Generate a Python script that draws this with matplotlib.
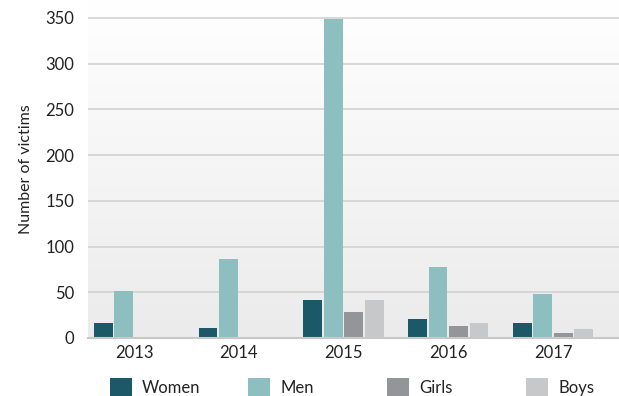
import numpy as np
import matplotlib
matplotlib.use("Agg")
import matplotlib.pyplot as plt
from matplotlib.patches import Rectangle

plt.rcParams['font.family'] = ['Lato', 'DejaVu Sans']

years = ["2013", "2014", "2015", "2016", "2017"]
series_names = ["Women", "Men", "Girls", "Boys"]
women = [16, 11, 42, 21, 16]
men = [51, 86, 349, 78, 48]
girls = [1, 1, 28, 13, 5]
boys = [1, 1, 42, 16, 10]
yticks = [0, 50, 100, 150, 200, 250, 300, 350]

colors = ["#1b5968", "#8dbfc0", "#939598", "#c7c8ca"]
values = [women, men, girls, boys]

W, H = 619, 396
fig = plt.figure(figsize=(W / 100, H / 100), dpi=100)
ax = fig.add_axes([88 / W, 1 - 338 / H, 1 - 88 / W, 338 / H])

# vertical gradient background: white at top, light grey at the bottom
grad = np.linspace(0.0, 1.0, 256).reshape(-1, 1)
ax.imshow(grad, extent=[0, 1, 0, 1], transform=ax.transAxes, aspect='auto', origin='lower',
          cmap=matplotlib.colors.LinearSegmentedColormap.from_list("bg", ["#ebebeb", "#ffffff"]),
          vmin=0, vmax=1, zorder=0)

x = np.arange(len(years))
step = 0.196
width = 0.178
for i, (vals, c) in enumerate(zip(values, colors)):
    ax.bar(x + (i - 1.5) * step, vals, width=width, color=c, zorder=3, label=series_names[i])

ax.set_xlim(-0.44, 4.63)
ax.set_ylim(0, 369.5)
ax.set_yticks(yticks)
ax.set_yticklabels([str(t) for t in yticks])
ax.set_xticks(x)
ax.set_xticklabels(years)
ax.yaxis.grid(True, color="#d2d2d2", linewidth=1.2, zorder=1)
ax.set_axisbelow(True)
for s in ["left", "right", "top"]:
    ax.spines[s].set_visible(False)
ax.spines["bottom"].set_color("#c8c8c8")
ax.spines["bottom"].set_linewidth(1.5)
ax.spines["bottom"].set_zorder(4)
ax.tick_params(axis='both', length=0, labelsize=12, colors="#222222")
ax.tick_params(axis='y', pad=10)
ax.tick_params(axis='x', pad=5)
ax.set_ylabel("Number of victims", fontsize=11.5, color="#222222", labelpad=9)

# legend row along the bottom edge
lx = [110, 248, 387, 526]
for px, name, c in zip(lx, series_names, colors):
    fig.patches.append(Rectangle((px / W, 0), 22 / W, 18 / H, transform=fig.transFigure,
                                 facecolor=c, edgecolor='none'))
    fig.text((px + 32) / W, 8 / H, name, fontsize=12, color="#222222", va='center', ha='left')

fig.savefig("out.png", dpi=100)
